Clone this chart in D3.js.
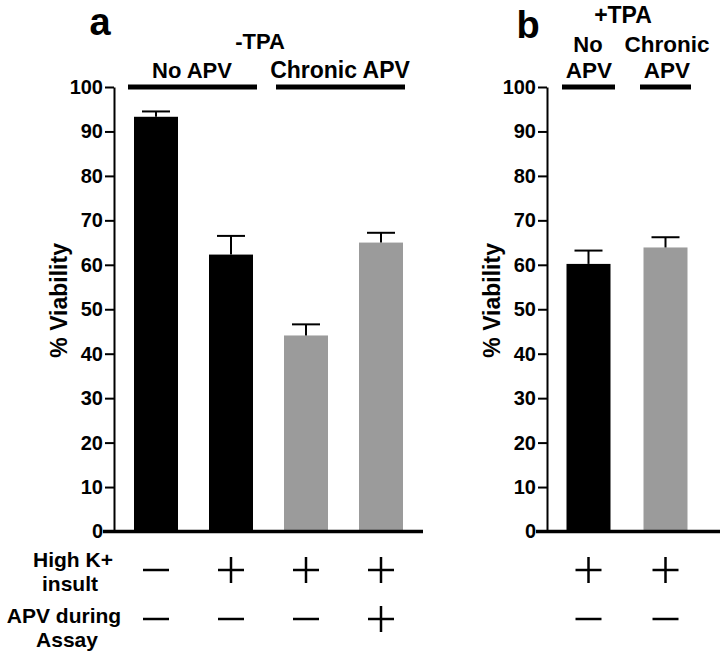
<!DOCTYPE html>
<html>
<head>
<meta charset="utf-8">
<script src="https://cdn.jsdelivr.net/npm/d3@7"></script>
<style>
  body { margin: 0; background: #fff; }
  svg { display: block; font-family: "Liberation Sans", Arial, Helvetica, sans-serif; font-weight: bold; }
</style>
</head>
<body>
<svg id="chart" width="720" height="652"></svg>
<script>
// ---------- data ----------
const categoriesA = ["NoAPV_ctrl", "NoAPV_K", "ChronicAPV_K", "ChronicAPV_K_APV"];
const treatmentA = ["No APV", "No APV", "Chronic APV", "Chronic APV"];
const valuesA = [93.3, 62.3, 44.1, 65.0];
const errorsA = [1.2, 4.2, 2.5, 2.2];
const highKA = ["-", "+", "+", "+"];
const apvAssayA = ["-", "-", "-", "+"];

const categoriesB = ["NoAPV_K", "ChronicAPV_K"];
const treatmentB = ["No APV", "Chronic APV"];
const valuesB = [60.2, 63.9];
const errorsB = [3.0, 2.3];
const highKB = ["+", "+"];
const apvAssayB = ["-", "-"];

const yTicks = [0, 10, 20, 30, 40, 50, 60, 70, 80, 90, 100];

// ---------- setup ----------
const svg = d3.select("#chart");
const color = d3.scaleOrdinal().domain(["No APV", "Chronic APV"]).range(["#000000", "#9b9b9b"]);
const y = d3.scaleLinear().domain([0, 100]).range([531.5, 87]);

function drawPanel(opts) {
  const g = svg.append("g");
  const x = d3.scalePoint().domain(opts.categories).range(opts.xRange);
  const barW = opts.barW;

  // y axis
  const axis = d3.axisLeft(y).tickValues(yTicks).tickSize(9).tickSizeOuter(0).tickPadding(2);
  const ag = g.append("g").attr("transform", `translate(${opts.axisX},0)`).call(axis);
  ag.select(".domain").attr("stroke", "#000").attr("stroke-width", 2);
  ag.selectAll(".tick line").attr("stroke", "#000").attr("stroke-width", 2);
  ag.selectAll(".tick text").attr("font-size", 20).attr("font-weight", "bold")
    .attr("font-family", "Liberation Sans, Arial, sans-serif").attr("fill", "#000");

  // y label
  g.append("text")
    .attr("transform", `translate(${opts.axisX - 55},${y(52)}) rotate(-90)`)
    .attr("text-anchor", "middle").attr("dominant-baseline", "central")
    .attr("font-size", 23).text("% Viability");

  // bars
  g.selectAll("rect.bar").data(opts.values).join("rect")
    .attr("class", "bar")
    .attr("x", (d, i) => x(opts.categories[i]) - barW / 2)
    .attr("width", barW)
    .attr("y", d => y(d))
    .attr("height", d => y(0) - y(d))
    .attr("fill", (d, i) => color(opts.treatment[i]));

  // error bars (upward)
  const capW = 28;
  opts.values.forEach((v, i) => {
    const cx = x(opts.categories[i]);
    const top = y(v + opts.errors[i]);
    g.append("line").attr("x1", cx).attr("x2", cx).attr("y1", y(v)).attr("y2", top)
      .attr("stroke", "#000").attr("stroke-width", 2);
    g.append("line").attr("x1", cx - capW / 2).attr("x2", cx + capW / 2).attr("y1", top).attr("y2", top)
      .attr("stroke", "#000").attr("stroke-width", 2);
  });

  // baseline
  g.append("line").attr("x1", opts.axisX - 11).attr("x2", opts.baseEnd)
    .attr("y1", y(0)).attr("y2", y(0)).attr("stroke", "#000").attr("stroke-width", 3.5);

  // +/- symbols
  const half = 13;
  function sym(sign, cx, cy) {
    g.append("line").attr("x1", cx - half).attr("x2", cx + half).attr("y1", cy).attr("y2", cy)
      .attr("stroke", "#000").attr("stroke-width", 2.5);
    if (sign === "+") {
      g.append("line").attr("x1", cx).attr("x2", cx).attr("y1", cy - half).attr("y2", cy + half)
        .attr("stroke", "#000").attr("stroke-width", 2.5);
    }
  }
  opts.highK.forEach((s, i) => sym(s, x(opts.categories[i]), 570));
  opts.apvAssay.forEach((s, i) => sym(s, x(opts.categories[i]), 619));
  return x;
}

drawPanel({
  categories: categoriesA, treatment: treatmentA, values: valuesA, errors: errorsA,
  highK: highKA, apvAssay: apvAssayA,
  xRange: [156, 381], barW: 44, axisX: 114, baseEnd: 423
});
drawPanel({
  categories: categoriesB, treatment: treatmentB, values: valuesB, errors: errorsB,
  highK: highKB, apvAssay: apvAssayB,
  xRange: [588.5, 665.5], barW: 44, axisX: 547, baseEnd: 720
});

// ---------- headers ----------
function txt(t, x, yy, size, anchor) {
  return svg.append("text").attr("x", x).attr("y", yy).attr("font-size", size)
    .attr("text-anchor", anchor || "middle").text(t);
}
txt("a", 100, 35, 38);
txt("b", 528, 38, 38);
txt("-TPA", 260, 49, 22);
txt("No APV", 192, 78, 22);
txt("Chronic APV", 340, 78, 23);
txt("+TPA", 623, 23, 23);
txt("No", 588, 52, 22);
txt("Chronic", 667, 52, 22.5);
txt("APV", 589, 78, 22.5);
txt("APV", 667, 78, 22.5);

// group lines
[[128, 257], [276, 405], [562, 615], [640, 691]].forEach(([a, b]) => {
  svg.append("line").attr("x1", a).attr("x2", b).attr("y1", 87).attr("y2", 87)
    .attr("stroke", "#000").attr("stroke-width", 5);
});

// row labels
txt("High K+", 73, 567, 21);
txt("insult", 70, 591, 21);
txt("APV during", 64, 623, 21);
txt("Assay", 67, 647, 21);
</script>
</body>
</html>
